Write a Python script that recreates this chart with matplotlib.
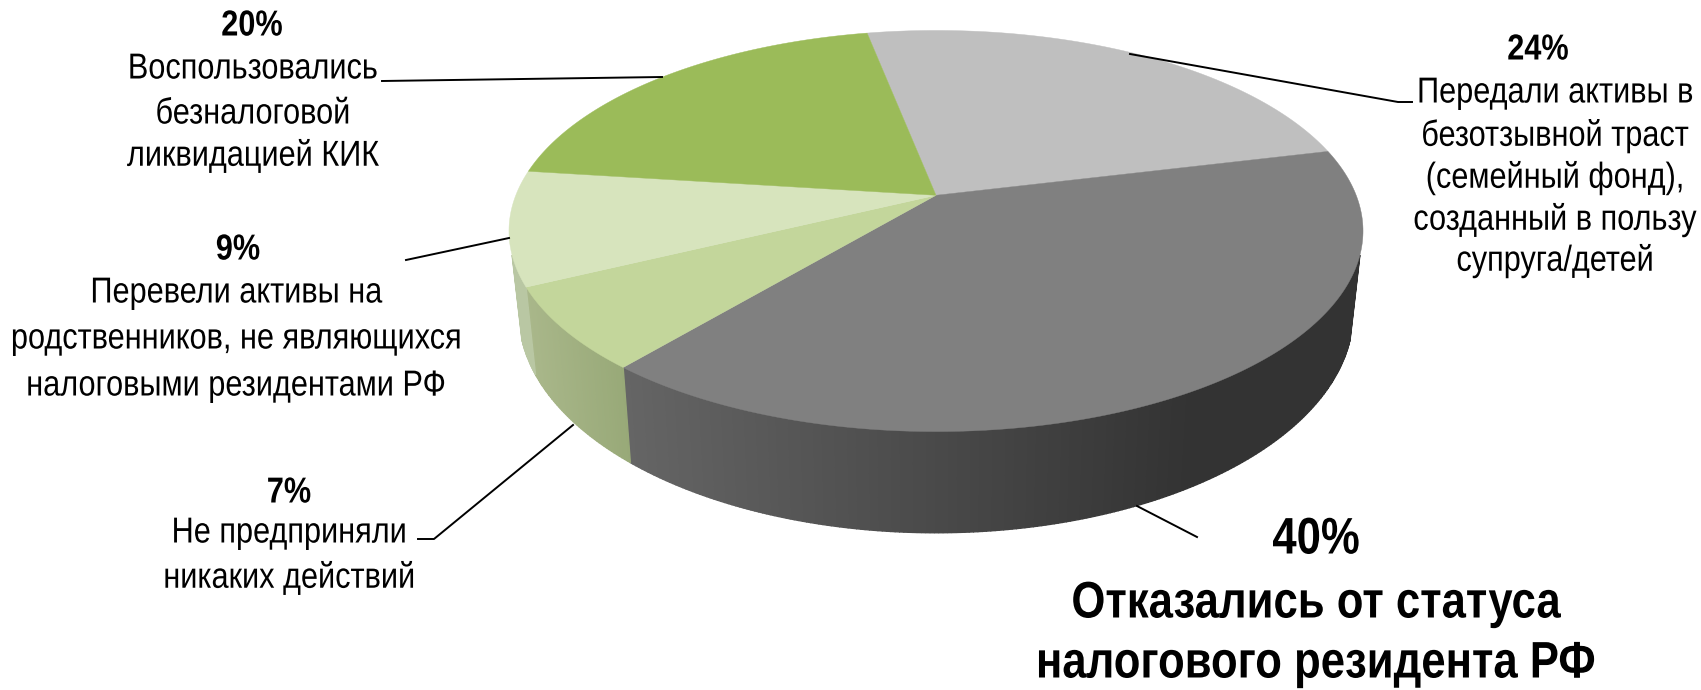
import numpy as np
import matplotlib
matplotlib.use("Agg")
import matplotlib.pyplot as plt
from matplotlib.colors import to_rgb
from matplotlib.patheffects import AbstractPathEffect
from matplotlib.transforms import Affine2D

# slices clockwise, starting from the grey one at the top
shares = [24.3, 39.9, 6.7, 9.2, 19.9]
pct_labels = ["24%", "40%", "7%", "9%", "20%"]
top_colors = ["#BFBFBF", "#808080", "#C3D69B", "#D7E4BD", "#9BBB59"]
wall_left = [None, "#656565", "#A9B78A", "#B9C7A3", None]
wall_right = [None, "#333333", "#98A978", "#B9C7A3", None]

label_texts = [
    ["Передали активы в", "безотзывной траст", "(семейный фонд),", "созданный в пользу", "супруга/детей"],
    ["Отказались от статуса", "налогового резидента РФ"],
    ["Не предприняли", "никаких действий"],
    ["Перевели активы на", "родственников, не являющихся", "налоговыми резидентами РФ"],
    ["Воспользовались", "безналоговой", "ликвидацией КИК"],
]

# label layout: x of the percent, y of the percent, x of the lines, y of the lines
label_pos = [
    (1538, 50, 1555, [93, 136, 178, 220, 261]),
    (1316, 540, 1316, [604, 664]),
    (289, 493, 289, [533, 578]),
    (238, 250, 236, [293, 339, 386]),
    (252, 26, 253, [69, 114, 156]),
]
# where the unsqueezed line sits, so that its box stays inside the figure
line_shift = [-30, 0, 0, 40, 0]
leaders = [
    [(1130, 54), (1398, 102), (1412, 102)],
    [(1137, 506), (1197, 537)],
    [(418, 539), (434, 539), (573, 425)],
    [(406, 260), (509, 238)],
    [(382, 81), (662, 77)],
]

plt.rcParams["font.family"] = ["Liberation Sans", "DejaVu Sans"]

START = -11.1
CX = 936
K = 0.178


class Narrow(AbstractPathEffect):
    # no narrow font installed, so squeeze the glyphs, anchor x ends up at target x
    def __init__(self, anchor, target, scale=0.85):
        super().__init__()
        self.anchor, self.target, self.scale = anchor, target, scale

    def draw_path(self, renderer, gc, tpath, affine, rgbFace=None):
        squeeze = Affine2D().translate(-self.anchor, 0).scale(self.scale, 1).translate(self.target, 0)
        renderer.draw_path(gc, tpath, affine + squeeze, rgbFace)


def top_xy(t):
    u, v = np.sin(np.radians(t)), -np.cos(np.radians(t))
    return CX + 420.2 * u / (1 - K * v), 195.3 + 194.2 * v / (1 - K * v)


def bottom_xy(t):
    u, v = np.sin(np.radians(t)), -np.cos(np.radians(t))
    return CX + 410.5 * u / (1 - K * v), 274 + 212.7 * v / (1 - K * v)


fig = plt.figure(figsize=(17.01, 6.90), dpi=100)
ax = fig.add_axes([0, 0, 1, 1])
ax.set_xlim(0, 1701)
ax.set_ylim(690, 0)
ax.axis("off")

for pts in leaders:
    ax.plot([p[0] for p in pts], [p[1] for p in pts], color="black", lw=1.4, zorder=4)

edges = START + np.cumsum([0] + shares) * 3.6

# walls, only the part of the rim that faces the viewer
WALL_FROM, WALL_TO = 107, 253
for i in range(len(shares)):
    if wall_left[i] is None:
        continue
    t0, t1 = max(edges[i], WALL_FROM), min(edges[i + 1], WALL_TO)
    steps = np.linspace(t0, t1, int((t1 - t0) * 2) + 2)
    c_r, c_l = np.array(to_rgb(wall_right[i])), np.array(to_rgb(wall_left[i]))
    x_start, x_end = top_xy(t1)[0], top_xy(t0)[0]
    if i == 1:
        x_end = 1190  # dark end of the gradient is reached before the edge
    for a, b in zip(steps[:-1], steps[1:]):
        xa, ya = top_xy(a)
        xb, yb = top_xy(b)
        xc, yc = bottom_xy(b)
        xd, yd = bottom_xy(a)
        f = np.clip((0.5 * (xa + xb) - x_start) / (x_end - x_start), 0, 1)
        col = c_l + (c_r - c_l) * f
        ax.fill([xa, xb, xc, xd], [ya, yb, yc, yd], color=col, lw=1.0, zorder=2)

# top face
for i in range(len(shares)):
    t = np.linspace(edges[i], edges[i + 1], 200)
    x, y = top_xy(t)
    ax.fill(np.r_[CX, x], np.r_[195.3, y], color=top_colors[i], lw=0.3, zorder=3)

# labels
for i in range(len(shares)):
    px, py, lx, ys = label_pos[i]
    big = i == 1
    size = 37 if big else 26
    ax.text(px, py, pct_labels[i], ha="center", va="center", fontweight="bold",
            fontsize=size, zorder=5, path_effects=[Narrow(px, px)])
    anchor = lx + line_shift[i]
    for line, y in zip(label_texts[i], ys):
        ax.text(anchor, y, line, ha="center", va="center", fontsize=size,
                fontweight="bold" if big else "normal", zorder=5,
                path_effects=[Narrow(anchor, lx)])

fig.savefig("out.png", dpi=100, facecolor="white")
